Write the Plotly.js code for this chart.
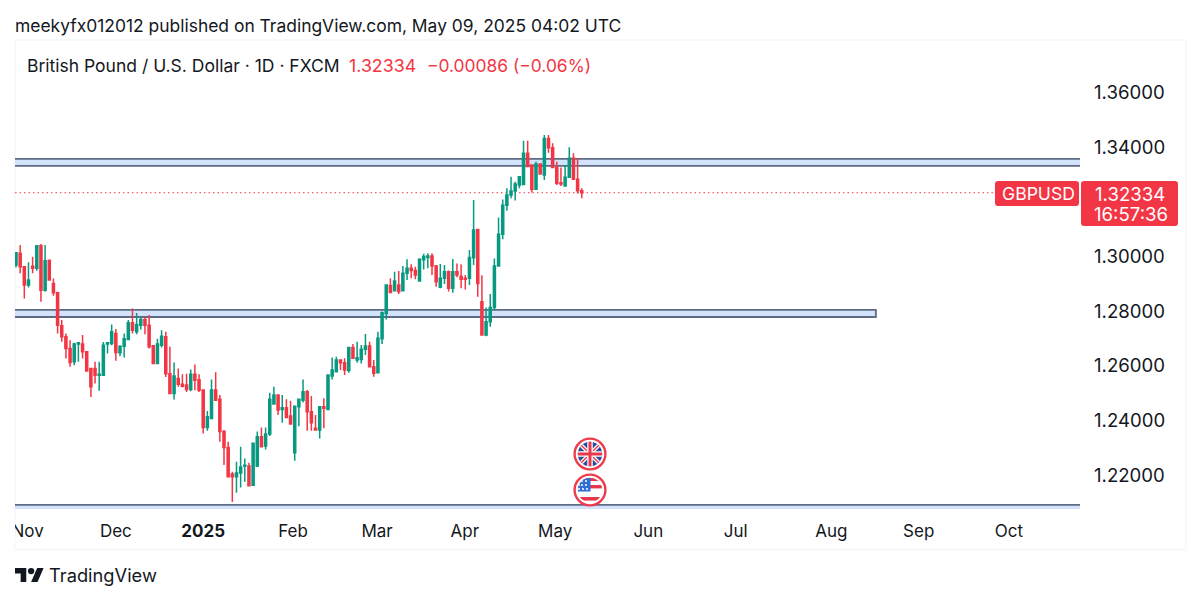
<!DOCTYPE html>
<html><head><meta charset="utf-8">
<script src="https://cdn.plot.ly/plotly-3.0.1.min.js"></script>
<style>html,body{margin:0;padding:0;background:#fff;overflow:hidden}#wrap{position:relative;width:1200px;height:601px}#chart{width:1200px;height:601px}#clip{position:absolute;left:0;top:520px;width:15px;height:24px;background:#fff}</style>
</head><body><div id="wrap"><div id="chart"></div><div id="clip"></div></div>
<script>
// daily candles, one per session from the left edge of the chart
const openPrices=[1.2969,1.3012,1.2963,1.2896,1.2965,1.2957,1.3040,1.2877,1.2987,1.2902,
1.2868,1.2747,1.2707,1.2664,1.2615,1.2680,1.2680,1.2652,1.2591,1.2591,
1.2566,1.2566,1.2680,1.2682,1.2719,1.2648,1.2672,1.2697,1.2758,1.2725,
1.2749,1.2770,1.2749,1.2674,1.2609,1.2676,1.2707,1.2572,1.2499,1.2554,
1.2533,1.2530,1.2514,1.2570,1.2550,1.2512,1.2375,1.2408,1.2512,1.2478,
1.2360,1.2302,1.2205,1.2195,1.2209,1.2234,1.2234,1.2164,1.2234,1.2341,
1.2307,1.2351,1.2461,1.2494,1.2441,1.2447,1.2417,1.2283,1.2451,1.2475,
1.2506,1.2433,1.2372,1.2366,1.2451,1.2441,1.2563,1.2579,1.2622,1.2612,
1.2583,1.2668,1.2622,1.2624,1.2661,1.2673,1.2597,1.2575,1.2700,1.2792,
1.2894,1.2875,1.2896,1.2875,1.2939,1.2957,1.2949,1.2911,1.2988,1.2997,
1.3002,1.2966,1.2888,1.2921,1.2945,1.2884,1.2945,1.2927,1.2921,1.2921,
1.2996,1.3099,1.2835,1.2713,1.2762,1.2814,1.2966,1.3082,1.3188,1.3225,
1.3240,1.3262,1.3264,1.3378,1.3335,1.3246,1.3339,1.3298,1.3432,1.3398,
1.3326,1.3270,1.3258,1.3290,1.3360,1.3283,1.3241];
const closePrices=[1.3014,1.2963,1.2896,1.2914,1.2957,1.3040,1.2877,1.2985,1.2914,1.2868,
1.2749,1.2707,1.2664,1.2613,1.2680,1.2685,1.2652,1.2582,1.2524,1.2566,
1.2570,1.2676,1.2685,1.2725,1.2649,1.2672,1.2700,1.2758,1.2731,1.2752,
1.2770,1.2749,1.2670,1.2609,1.2680,1.2709,1.2572,1.2499,1.2563,1.2533,
1.2526,1.2514,1.2570,1.2548,1.2511,1.2375,1.2414,1.2512,1.2475,1.2360,
1.2302,1.2195,1.2195,1.2209,1.2231,1.2237,1.2162,1.2317,1.2341,1.2305,
1.2351,1.2478,1.2494,1.2439,1.2447,1.2412,1.2388,1.2453,1.2478,1.2506,
1.2433,1.2392,1.2366,1.2451,1.2445,1.2567,1.2585,1.2622,1.2612,1.2585,
1.2668,1.2628,1.2630,1.2661,1.2673,1.2597,1.2573,1.2701,1.2795,1.2896,
1.2869,1.2911,1.2872,1.2939,1.2957,1.2949,1.2933,1.2990,1.3000,1.3002,
1.2966,1.2908,1.2921,1.2945,1.2884,1.2945,1.2933,1.2917,1.2917,1.2997,
1.3097,1.2902,1.2713,1.2762,1.2814,1.2966,1.3082,1.3188,1.3225,1.3240,
1.3265,1.3292,1.3378,1.3329,1.3246,1.3339,1.3302,1.3432,1.3398,1.3326,
1.3268,1.3265,1.3290,1.3360,1.3283,1.3241,1.32334];
const highPrices=[1.3014,1.3042,1.2963,1.2979,1.2999,1.3042,1.3046,1.3042,1.2987,1.2920,
1.2871,1.2768,1.2719,1.2694,1.2685,1.2688,1.2713,1.2652,1.2591,1.2615,
1.2615,1.2688,1.2688,1.2752,1.2735,1.2676,1.2719,1.2768,1.2810,1.2794,
1.2777,1.2777,1.2786,1.2676,1.2700,1.2731,1.2725,1.2670,1.2613,1.2591,
1.2570,1.2572,1.2587,1.2605,1.2570,1.2512,1.2435,1.2551,1.2577,1.2494,
1.2366,1.2323,1.2213,1.2250,1.2305,1.2262,1.2246,1.2317,1.2360,1.2375,
1.2375,1.2502,1.2524,1.2494,1.2494,1.2478,1.2473,1.2453,1.2478,1.2551,
1.2512,1.2490,1.2421,1.2453,1.2482,1.2569,1.2631,1.2634,1.2622,1.2628,
1.2670,1.2680,1.2689,1.2677,1.2717,1.2689,1.2622,1.2725,1.2799,1.2896,
1.2921,1.2945,1.2947,1.2966,1.2990,1.2972,1.2963,1.2994,1.3010,1.3012,
1.3012,1.2969,1.2973,1.2969,1.2949,1.2991,1.2975,1.2972,1.2933,1.3024,
1.3207,1.3099,1.2932,1.2814,1.2863,1.2993,1.3143,1.3209,1.3250,1.3292,
1.3274,1.3295,1.3424,1.3424,1.3335,1.3347,1.3339,1.3445,1.3445,1.3414,
1.3347,1.3326,1.3335,1.3400,1.3378,1.3360,1.3250];
const lowPrices=[1.2960,1.2939,1.2847,1.2887,1.2939,1.2948,1.2835,1.2871,1.2914,1.2857,
1.2719,1.2689,1.2627,1.2597,1.2603,1.2615,1.2627,1.2579,1.2487,1.2536,
1.2509,1.2566,1.2646,1.2676,1.2619,1.2636,1.2631,1.2697,1.2719,1.2716,
1.2733,1.2716,1.2664,1.2607,1.2609,1.2668,1.2560,1.2497,1.2477,1.2524,
1.2521,1.2505,1.2508,1.2511,1.2505,1.2353,1.2363,1.2408,1.2475,1.2323,
1.2238,1.2195,1.2103,1.2136,1.2156,1.2177,1.2162,1.2162,1.2231,1.2305,
1.2295,1.2344,1.2461,1.2421,1.2392,1.2412,1.2388,1.2253,1.2380,1.2466,
1.2363,1.2363,1.2363,1.2335,1.2372,1.2441,1.2551,1.2579,1.2585,1.2567,
1.2575,1.2628,1.2612,1.2609,1.2640,1.2595,1.2561,1.2575,1.2680,1.2770,
1.2869,1.2875,1.2863,1.2875,1.2914,1.2921,1.2917,1.2911,1.2953,1.2957,
1.2933,1.2890,1.2884,1.2900,1.2872,1.2868,1.2924,1.2884,1.2880,1.2896,
1.2969,1.2853,1.2713,1.2709,1.2743,1.2804,1.2963,1.3063,1.3168,1.3213,
1.3205,1.3250,1.3264,1.3329,1.3234,1.3246,1.3302,1.3280,1.3380,1.3325,
1.3262,1.3258,1.3258,1.3290,1.3280,1.3231,1.3213];
const priceTicks=[1.36,1.34,1.30,1.28,1.26,1.24,1.22];
const priceTickLabels=['1.36000','1.34000','1.30000','1.28000','1.26000','1.24000','1.22000'];
const timeTickSessions=[2.8,24,45,66.6,86.8,107.9,129.6,152,173,196,217,238.7];
const timeTickLabels=['Nov','Dec','<b>2025</b>','Feb','Mar','Apr','May','Jun','Jul','Aug','Sep','Oct'];
const lastPrice=1.32334;
const zones=[[-5,300,1.3332,1.3357],[-5,206.7,1.2779,1.2805],[-5,300,1.2060,1.2092]];

const W=1200,H=601,L=15,R=1080,T=40,B=509;
const px=x=>(x-L)/(R-L), py=y=>(B-y)/(B-T);
const UP='#089981',DOWN='#f23645',INK='#131722',FONT='Inter, "Noto Sans", sans-serif';
const sessions=openPrices.map((_,i)=>i);

function rr(x0,y0,x1,y1,r,fill){
  const f=(x,y)=>px(x)+' '+py(y);
  return {type:'path',xref:'paper',yref:'paper',fillcolor:fill,line:{width:0},layer:'above',
    path:`M${f(x0+r,y0)}L${f(x1-r,y0)}Q${f(x1,y0)} ${f(x1,y0+r)}L${f(x1,y1-r)}Q${f(x1,y1)} ${f(x1-r,y1)}L${f(x0+r,y1)}Q${f(x0,y1)} ${f(x0,y1-r)}L${f(x0,y0+r)}Q${f(x0,y0)} ${f(x0+r,y0)}Z`};
}
const shapes=zones.map(z=>({type:'rect',xref:'x',yref:'y',x0:z[0],x1:z[1],y0:z[2],y1:z[3],
  fillcolor:'#d3e3fb',line:{color:'#5d6b85',width:1.8},layer:'below'}));
shapes.push({type:'rect',xref:'paper',yref:'paper',x0:px(15),x1:px(1186),y0:py(549.5),y1:py(40),
  fillcolor:'rgba(0,0,0,0)',line:{color:'#f0f3fa',width:1},layer:'below'});
shapes.push({type:'line',xref:'paper',yref:'y',x0:px(15),x1:px(996),y0:lastPrice,y1:lastPrice,
  line:{color:DOWN,width:1.2,dash:'1.5px,3px'},layer:'below'});
shapes.push(rr(995,181,1079,206,3,DOWN));
shapes.push(rr(1081,181,1178,226,3,DOWN));

function txt(x,y,text,size,color,anchor,extra){
  return Object.assign({xref:'paper',yref:'paper',x:px(x),y:py(y),text,showarrow:false,
    xanchor:anchor||'left',yanchor:'middle',align:anchor||'left',
    font:{family:FONT,size,color}},extra||{});
}
const annotations=[
  txt(13,26,'meekyfx012012 published on TradingView.com, May 09, 2025 04:02 UTC',17.45,INK),
  txt(25,65.5,'British Pound / U.S. Dollar · 1D · FXCM',17.5,INK),
  txt(347,65.5,'1.32334',17.8,DOWN),
  txt(425,65.5,'−0.00086 (−0.06%)',17.4,DOWN),
  txt(1038.5,194,'GBPUSD',17.6,'#ffffff','center'),
  txt(1130,194,'1.32334',18.6,'#ffffff','center'),
  txt(1131,214,'16:57:36',18.6,'#ffffff','center'),
  txt(47,575,'TradingView',18.3,INK)
];
const ukFlag="data:image/svg+xml;utf8,"+encodeURIComponent(`<svg xmlns='http://www.w3.org/2000/svg' viewBox='0 0 34 34'><defs><clipPath id='c'><circle cx='17' cy='17' r='12.2'/></clipPath></defs><circle cx='17' cy='17' r='15.4' fill='#fff' stroke='#ee3b4d' stroke-width='2.4'/><g clip-path='url(#c)'><rect width='34' height='34' fill='#2a4a9c'/><path d='M2 2L32 32M32 2L2 32' stroke='#fff' stroke-width='4'/><path d='M2 2L32 32M32 2L2 32' stroke='#e8364a' stroke-width='1.4'/><path d='M17 0V34M0 17H34' stroke='#fff' stroke-width='5.5'/><path d='M17 0V34M0 17H34' stroke='#e8364a' stroke-width='3'/></g></svg>`);
const usFlag="data:image/svg+xml;utf8,"+encodeURIComponent(`<svg xmlns='http://www.w3.org/2000/svg' viewBox='0 0 34 34'><defs><clipPath id='c'><circle cx='17' cy='17' r='12.2'/></clipPath></defs><circle cx='17' cy='17' r='15.4' fill='#fff' stroke='#ee3b4d' stroke-width='2.4'/><g clip-path='url(#c)'><rect width='34' height='34' fill='#fff'/><rect y='5' width='34' height='3' fill='#e8364a'/><rect y='12' width='34' height='3.4' fill='#e8364a'/><rect y='24' width='34' height='3.6' fill='#e8364a'/><rect width='17.5' height='18.5' fill='#2f6fd6'/><g fill='#fff'><circle cx='9' cy='8' r='1'/><circle cx='13' cy='8' r='1'/><circle cx='9' cy='12' r='1'/><circle cx='13' cy='12' r='1'/><circle cx='6' cy='12' r='1'/><circle cx='6' cy='16' r='1'/><circle cx='10' cy='16' r='1'/><circle cx='14' cy='16' r='1'/></g></g></svg>`);
const tvLogo="data:image/svg+xml;utf8,"+encodeURIComponent(`<svg xmlns='http://www.w3.org/2000/svg' viewBox='0 0 36 18'><path fill='#131722' d='M14 18H7V7H0V0h14v18zM28 18h-8l7.5-18h8L28 18z'/><circle cx='20' cy='4' r='4' fill='#131722'/></svg>`);
function img(src,x,y,w,h){return {source:src,xref:'paper',yref:'paper',x:px(x),y:py(y),sizex:w/(R-L),sizey:h/(B-T),xanchor:'left',yanchor:'top',layer:'above',sizing:'stretch'};}

const trace={type:'candlestick',x:sessions,open:openPrices,high:highPrices,low:lowPrices,close:closePrices,
  increasing:{line:{color:UP,width:1.5},fillcolor:UP},
  decreasing:{line:{color:DOWN,width:1.5},fillcolor:DOWN},
  whiskerwidth:0,hoverinfo:'skip',showlegend:false};
const layout={width:W,height:H,paper_bgcolor:'#fff',plot_bgcolor:'#fff',showlegend:false,
  margin:{l:L,r:W-R,t:T,b:H-B,pad:0},
  xaxis:{range:[-0.24,255.77],type:'linear',showgrid:false,zeroline:false,showline:false,ticks:'',
    rangeslider:{visible:false},tickmode:'array',tickvals:timeTickSessions,ticktext:timeTickLabels,
    tickangle:0,ticklabelstandoff:10,tickfont:{family:FONT,size:17,color:INK}},
  yaxis:{range:[1.2077,1.3792],side:'right',showgrid:false,zeroline:false,showline:false,ticks:'',
    tickmode:'array',tickvals:priceTicks,ticktext:priceTickLabels,ticklabelstandoff:13,
    tickfont:{family:FONT,size:18.6,color:INK}},
  shapes,annotations,
  images:[img(ukFlag,573,437,34,34),img(usFlag,573,473,34,34),img(tvLogo,15,568,29,14)]};
Plotly.newPlot('chart',[trace],layout,{displayModeBar:false,staticPlot:true});
</script></body></html>
